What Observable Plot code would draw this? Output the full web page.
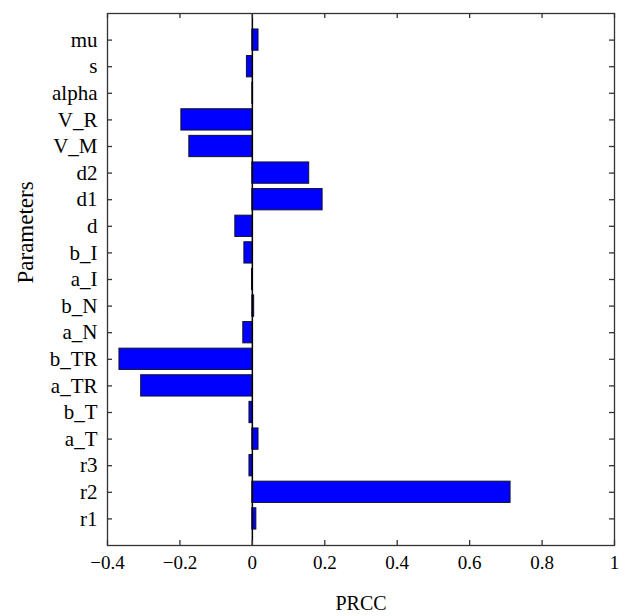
<!DOCTYPE html>
<html>
<head>
<meta charset="utf-8">
<script src="https://cdn.jsdelivr.net/npm/d3@7"></script>
<script src="https://cdn.jsdelivr.net/npm/@observablehq/plot@0.6"></script>
<style>
  html, body { margin: 0; padding: 0; background: #fff; }
  #chart svg { display: block; }
</style>
</head>
<body>
<div id="chart"></div>
<script>
// Parameters from bottom (r1) to top (mu)
const params = ["r1","r2","r3","a_T","b_T","a_TR","b_TR","a_N","b_N","a_I","b_I","d","d1","d2","V_M","V_R","alpha","s","mu"];
const prcc   = [0.011, 0.713, -0.008, 0.017, -0.008, -0.307, -0.367, -0.025, 0.005, -0.001, -0.022, -0.047, 0.194, 0.157, -0.174, -0.196, 0.002, -0.015, 0.017];
const xTicks = [-0.4, -0.2, 0, 0.2, 0.4, 0.6, 0.8, 1];
const xTickLabels = ["\u22120.4", "\u22120.2", "0", "0.2", "0.4", "0.6", "0.8", "1"];

const data = params.map((p, i) => ({param: p, pos: i + 1, value: prcc[i]}));
const positions = data.map(d => d.pos);

const W = 630, H = 616;
const mL = 107, mR = 16, mT = 13, mB = 71;
const plotW = W - mL - mR, plotH = H - mT - mB;
const tick = 5;
const font = "'Liberation Serif', 'DejaVu Serif', serif";

const chart = Plot.plot({
  width: W,
  height: H,
  marginLeft: mL,
  marginRight: mR,
  marginTop: mT,
  marginBottom: mB,
  style: {fontFamily: font, fontSize: "19px", color: "#000", background: "#fff"},
  x: {domain: [-0.4, 1]},
  y: {domain: [0, params.length + 1]},
  marks: [
    Plot.rect(data, {
      x1: () => 0, x2: "value",
      y1: d => d.pos - 0.4, y2: d => d.pos + 0.4,
      fill: "#0000ff", stroke: "#101030", strokeWidth: 1
    }),
    Plot.ruleX([0], {stroke: "#000", strokeWidth: 1.5}),
    Plot.frame({stroke: "#333", strokeWidth: 1.3}),
    // inward ticks: bottom & top
    Plot.ruleX(xTicks, {stroke: "#333", strokeWidth: 1.3, insetTop: plotH - tick}),
    Plot.ruleX(xTicks, {stroke: "#333", strokeWidth: 1.3, insetBottom: plotH - tick}),
    // inward ticks: left & right
    Plot.ruleY(positions, {stroke: "#333", strokeWidth: 1.3, insetRight: plotW - tick}),
    Plot.ruleY(positions, {stroke: "#333", strokeWidth: 1.3, insetLeft: plotW - tick}),
    Plot.axisX(xTicks, {
      tickSize: 0, tickPadding: 10, label: null,
      tickFormat: (d, i) => xTickLabels[xTicks.indexOf(d)], fontSize: 19
    }),
    Plot.axisY(positions, {
      tickSize: 0, tickPadding: 10, label: null,
      tickFormat: d => params[d - 1], fontSize: 21
    }),
    Plot.text(["PRCC"], {
      frameAnchor: "bottom", dy: 50, lineAnchor: "top", fontSize: 20, fill: "#000"
    }),
    Plot.text(["Parameters"], {
      frameAnchor: "left", dx: -82, dy: 4, rotate: -90, fontSize: 23, fill: "#000"
    })
  ]
});
document.getElementById("chart").appendChild(chart);
</script>
</body>
</html>
